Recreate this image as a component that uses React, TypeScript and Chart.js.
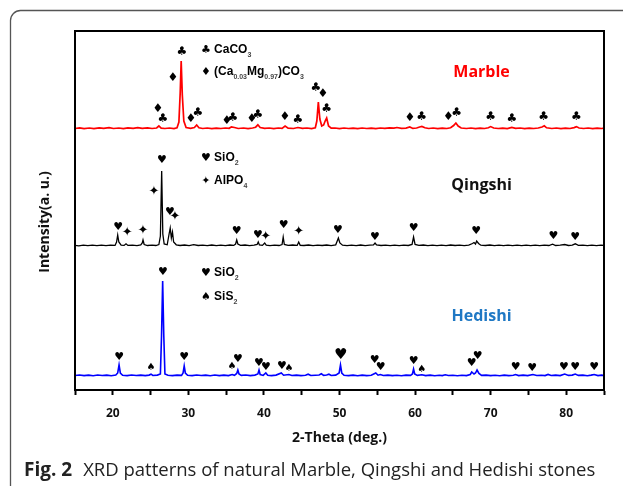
import { useEffect, useRef } from 'react';
import { Chart, registerables } from 'chart.js';
Chart.register(...registerables);

// 2-Theta axis
const thetaMin = 15;
const thetaMax = 85;
const thetaStep = 5;
const thetaLabels = [20, 30, 40, 50, 60, 70, 80];

// stacking offsets (a.u.)
const marbleOffset = 261;
const qingshiOffset = 144;
const hedishiOffset = 14;

// [2θ, intensity]
const marble: [number, number][] = [
  [15, 0.5], [15.6, 1.2], [16.2, 0.4], [16.9, 1.0], [17.5, 0.3], [18.2, 1.1], [18.8, 0.6], [19.5, 1.3], [20.1, 0.5], [20.8, 1.0],
  [21.4, 0.4], [22.0, 1.2], [22.7, 0.7], [23.3, 1.4], [23.9, 0.6], [24.6, 1.1], [25.2, 0.5], [25.8, 1.0], [26.1, 3.0], [26.4, 0.8],
  [26.9, 0.5], [27.5, 1.0], [28.1, 0.4], [28.5, 1.2], [28.75, 7], [28.92, 36], [29.05, 68], [29.2, 34], [29.4, 8], [29.7, 1.5],
  [30.3, 0.6], [30.8, 1.5], [31.1, 4.0], [31.4, 1.2], [31.9, 0.5], [32.5, 1.0], [33.1, 0.4], [33.7, 0.9], [34.3, 0.5], [34.9, 1.0],
  [35.4, 0.7], [35.7, 2.2], [36.1, 1.5], [36.6, 0.5], [37.3, 1.0], [37.9, 0.4], [38.5, 1.0], [38.9, 1.8], [39.2, 4.2], [39.5, 1.5],
  [40.1, 0.6], [40.7, 1.0], [41.3, 0.4], [41.9, 1.0], [42.4, 0.6], [42.8, 3.0], [43.2, 0.8], [43.9, 0.5], [44.5, 1.5], [45.1, 0.6],
  [45.7, 1.0], [46.3, 0.4], [46.8, 1.2], [47.0, 8], [47.2, 27], [47.4, 10], [47.65, 3], [47.9, 4], [48.1, 8], [48.3, 11],
  [48.55, 3], [48.9, 0.8], [49.4, 1.0], [50.0, 0.4], [50.6, 1.0], [51.2, 0.5], [51.8, 0.9], [52.4, 0.3], [53.0, 1.0], [53.6, 0.5],
  [54.2, 0.8], [54.8, 0.3], [55.4, 1.0], [56.0, 0.6], [56.6, 1.2], [57.2, 0.8], [57.6, 1.5], [58.2, 0.6], [58.8, 0.9], [59.3, 2.0],
  [59.7, 0.6], [60.2, 1.0], [60.6, 2.0], [60.9, 2.6], [61.3, 1.2], [61.8, 0.5], [62.4, 1.0], [63.0, 0.4], [63.6, 0.9], [64.2, 0.5],
  [64.7, 1.2], [65.1, 3.5], [65.4, 6.0], [65.7, 3.0], [66.1, 1.0], [66.8, 0.5], [67.4, 1.0], [68.0, 0.4], [68.6, 0.9], [69.2, 0.5],
  [69.7, 1.2], [70.0, 2.4], [70.4, 1.0], [71.0, 0.5], [71.6, 0.9], [72.2, 0.4], [72.8, 1.6], [73.3, 0.6], [73.9, 1.0], [74.5, 0.4],
  [75.1, 0.9], [75.7, 0.5], [76.3, 1.0], [76.8, 2.0], [77.1, 3.2], [77.4, 1.2], [78.1, 0.5], [78.7, 1.0], [79.3, 0.4], [79.9, 0.9],
  [80.5, 0.5], [81.05, 1.4], [81.35, 2.4], [81.7, 1.0], [82.3, 0.5], [82.9, 1.0], [83.5, 0.4], [84.1, 0.9], [84.7, 0.5], [85, 0.8],
];

const qingshi: [number, number][] = [
  [15, 0.6], [15.5, 0.2], [16.1, 0.8], [16.7, 0.3], [17.3, 0.9], [17.9, 0.4], [18.5, 0.8], [19.1, 0.3], [19.7, 0.9], [20.3, 0.6],
  [20.5, 4], [20.65, 11], [20.8, 4], [21.1, 0.8], [21.5, 0.6], [21.75, 2.2], [22.0, 0.6], [22.6, 0.9], [23.2, 0.4], [23.7, 1.0],
  [23.9, 3], [24.0, 6], [24.15, 1.5], [24.6, 0.5], [25.2, 0.9], [25.7, 0.5], [26.1, 1.5], [26.3, 10], [26.47, 75], [26.62, 12],
  [26.8, 2], [27.2, 1.2], [27.45, 12], [27.6, 18], [27.75, 8], [27.9, 14], [28.05, 4], [28.4, 1.2], [28.9, 0.5], [29.5, 1.0],
  [30.1, 0.4], [30.7, 1.3], [31.3, 0.5], [31.9, 0.9], [32.5, 0.3], [33.1, 1.0], [33.7, 0.4], [34.3, 0.9], [34.9, 0.4], [35.5, 1.0],
  [36.0, 0.6], [36.25, 2], [36.4, 6], [36.55, 2], [36.9, 0.6], [37.5, 1.0], [38.1, 0.4], [38.7, 0.8], [39.1, 1.5], [39.25, 4],
  [39.4, 1], [39.8, 0.6], [40.1, 3], [40.3, 0.8], [40.8, 0.4], [41.4, 0.9], [42.0, 0.5], [42.4, 1.5], [42.55, 9], [42.7, 1.5],
  [43.2, 0.6], [43.8, 1.0], [44.4, 0.6], [44.6, 4], [44.8, 0.7], [45.3, 0.5], [45.9, 1.0], [46.5, 0.4], [47.1, 0.9], [47.7, 0.5],
  [48.3, 1.0], [48.9, 0.4], [49.5, 1.2], [49.7, 5], [49.85, 8], [50.05, 3], [50.4, 0.8], [51.0, 0.4], [51.6, 0.9], [52.2, 0.3],
  [52.8, 1.0], [53.4, 0.4], [54.0, 0.8], [54.5, 1.2], [54.7, 3], [54.9, 1], [55.5, 0.5], [56.1, 0.9], [56.7, 0.4], [57.3, 0.8],
  [57.9, 0.4], [58.5, 0.9], [59.1, 0.5], [59.6, 1.5], [59.8, 9], [60.0, 1.5], [60.5, 0.6], [61.1, 1.0], [61.7, 0.4], [62.3, 0.9],
  [62.9, 0.3], [63.5, 0.8], [64.1, 0.4], [64.7, 1.0], [65.3, 0.5], [65.9, 0.9], [66.5, 0.4], [67.1, 0.9], [67.6, 2.5], [67.8, 3.5],
  [68.0, 2.0], [68.15, 5], [68.4, 2.5], [68.7, 0.8], [69.3, 0.5], [69.9, 1.0], [70.5, 0.4], [71.1, 0.9], [71.7, 0.4], [72.3, 0.8],
  [72.9, 0.3], [73.5, 0.9], [74.1, 0.4], [74.7, 0.8], [75.3, 0.4], [75.9, 0.9], [76.5, 0.4], [77.1, 0.8], [77.7, 0.5], [78.2, 1.8],
  [78.6, 0.5], [79.2, 0.9], [79.8, 1.5], [80.3, 0.5], [80.8, 0.9], [81.2, 2.2], [81.6, 0.6], [82.2, 0.9], [82.8, 0.3], [83.4, 0.8],
  [84.0, 0.4], [84.6, 0.9], [85, 0.5],
];

const hedishi: [number, number][] = [
  [15, 0.5], [15.6, 1.0], [16.2, 0.4], [16.8, 0.9], [17.4, 0.3], [18.0, 1.0], [18.6, 0.5], [19.2, 0.9], [19.8, 0.3], [20.4, 0.9],
  [20.65, 3], [20.83, 11], [21.0, 3], [21.3, 0.8], [21.9, 0.4], [22.5, 1.0], [23.1, 0.5], [23.7, 0.9], [24.3, 0.4], [24.8, 0.9],
  [25.06, 1.8], [25.3, 0.5], [25.9, 0.9], [26.3, 2], [26.45, 40], [26.6, 95], [26.75, 40], [26.9, 2], [27.3, 0.8], [27.9, 0.4],
  [28.5, 0.9], [29.1, 0.6], [29.3, 3], [29.45, 10], [29.6, 3], [29.9, 0.7], [30.5, 0.4], [31.1, 1.0], [31.7, 0.5], [32.3, 0.9],
  [32.9, 0.3], [33.5, 1.0], [34.1, 0.4], [34.7, 0.9], [35.3, 0.4], [35.8, 1.5], [36.1, 0.7], [36.4, 2.5], [36.55, 6], [36.7, 2],
  [37.0, 0.6], [37.6, 1.0], [38.2, 0.4], [38.8, 0.9], [39.2, 2], [39.35, 6], [39.5, 1.5], [39.9, 0.6], [40.25, 3], [40.5, 0.8],
  [41.0, 0.4], [41.6, 0.9], [42.3, 3], [42.6, 0.8], [43.3, 1.5], [43.7, 0.5], [44.3, 0.9], [44.9, 0.4], [45.5, 0.8], [45.85, 1.8],
  [46.2, 0.5], [46.8, 0.8], [47.3, 1.0], [47.6, 2.2], [47.9, 0.6], [48.3, 1.0], [48.6, 1.8], [48.9, 0.5], [49.5, 0.9], [49.95, 3],
  [50.13, 11], [50.3, 3], [50.6, 0.7], [51.2, 0.4], [51.8, 0.9], [52.4, 0.3], [53.0, 0.9], [53.6, 0.4], [54.2, 0.8], [54.8, 3],
  [55.1, 0.8], [55.4, 1.5], [55.8, 0.5], [56.4, 0.9], [57.0, 0.4], [57.6, 0.8], [58.2, 0.3], [58.8, 0.9], [59.4, 0.6], [59.65, 2],
  [59.8, 7], [59.95, 2], [60.3, 0.6], [60.9, 1.2], [61.4, 0.4], [62.0, 0.9], [62.6, 0.3], [63.2, 0.8], [63.6, 0.4], [64.0, 1.2],
  [64.4, 0.5], [65.0, 0.8], [65.6, 0.3], [66.2, 0.8], [66.8, 0.4], [67.3, 1.5], [67.5, 4], [67.8, 2], [68.0, 3], [68.2, 6],
  [68.45, 2.5], [68.8, 0.6], [69.4, 0.9], [70.0, 0.4], [70.6, 0.8], [71.2, 0.3], [71.8, 0.9], [72.4, 0.4], [73.0, 0.8], [73.3, 1.5],
  [73.7, 0.4], [74.3, 0.9], [74.9, 0.4], [75.6, 1.5], [76.1, 0.5], [76.7, 0.8], [77.2, 0.4], [77.6, 1.6], [78.0, 0.5], [78.6, 0.9],
  [79.2, 0.4], [79.8, 2.0], [80.3, 0.6], [80.8, 0.9], [81.2, 2.0], [81.6, 0.6], [82.2, 0.9], [82.8, 0.3], [83.3, 0.9], [83.7, 1.5],
  [84.2, 0.4], [84.7, 0.9], [85, 0.5],
];

// phase markers [2θ, level]
const clubMarks: [number, number][] = [
  [29.15, 338], [26.64, 271], [31.27, 277], [35.9, 272], [39.2, 275], [44.5, 270], [46.86, 302], [48.3, 281],
  [60.87, 273], [65.5, 277], [70.0, 273], [72.8, 271], [77.0, 273], [81.35, 273],
];
const diamondMarks: [number, number][] = [
  [27.96, 312], [25.98, 281], [30.34, 271], [35.1, 269], [38.4, 271], [42.77, 273], [47.79, 296], [59.3, 272], [64.4, 273],
];
const qHeartMarks: [number, number][] = [
  [26.5, 230], [27.57, 178], [20.7, 163], [36.4, 159], [39.2, 155], [42.6, 165], [49.8, 160], [54.7, 153], [59.8, 162],
  [68.1, 159], [78.3, 154], [81.2, 153],
];
const starMarks: [number, number][] = [
  [25.45, 198], [28.23, 173], [21.9, 157], [24.0, 159], [40.25, 153], [44.6, 158],
];
const hHeartMarks: [number, number][] = [
  [26.64, 118], [20.83, 33], [29.44, 33], [36.57, 31], [39.34, 27], [40.27, 23], [42.38, 24], [54.65, 30], [55.45, 23],
  [59.8, 29], [67.5, 27], [68.27, 34], [73.3, 23], [75.5, 22], [79.7, 23], [81.2, 23], [83.7, 23],
];
const hBigHeartMarks: [number, number][] = [[50.15, 35]];
const spadeMarks: [number, number][] = [[25.06, 23], [35.78, 24], [43.3, 22], [60.87, 21]];

// legends: [symbol, text segments (text, isSubscript), level]
const legendTheta = 32.33;
const legendTextTheta = 33.4;
const legends: [string, [string, boolean][], number][] = [
  ['\u2663', [['CaCO', false], ['3', true]], 340],
  ['\u2666', [['(Ca', false], ['0.03', true], ['Mg', false], ['0.97', true], [')CO', false], ['3', true]], 318],
  ['\u2665', [['SiO', false], ['2', true]], 232],
  ['\u2726', [['AlPO', false], ['4', true]], 209],
  ['\u2665', [['SiO', false], ['2', true]], 117],
  ['\u2660', [['SiS', false], ['2', true]], 93],
];

const sampleNames = ['Marble', 'Qingshi', 'Hedishi'];
const sampleLevels = [318, 205, 74];
const sampleTheta = 68.8;

const xTitle = '2-Theta (deg.)';
const yTitle = 'Intensity(a. u.)';
const captionBold = 'Fig. 2';
const captionText = 'XRD patterns of natural Marble, Qingshi and Hedishi stones';

const toXY = (arr: [number, number][], off: number) => arr.map(([x, y]) => ({ x, y: y + off }));

export default function App() {
  const ref = useRef<HTMLCanvasElement | null>(null);
  useEffect(() => {
    const canvas = ref.current;
    if (!canvas) return;
    const overlay = {
      id: 'overlay',
      beforeDraw(chart: any) {
        const { ctx } = chart;
        ctx.save();
        ctx.fillStyle = '#ffffff';
        ctx.fillRect(0, 0, chart.width, chart.height);
        ctx.strokeStyle = '#555';
        ctx.lineWidth = 1.3;
        ctx.beginPath();
        ctx.moveTo(10.5, 486);
        ctx.lineTo(10.5, 20);
        ctx.arcTo(10.5, 10.5, 20, 10.5, 10);
        ctx.lineTo(623, 10.5);
        ctx.stroke();
        ctx.restore();
      },
      afterDatasetsDraw(chart: any) {
        const { ctx, scales } = chart;
        const xs = scales.x;
        const ys = scales.y;
        ctx.save();
        ctx.fillStyle = '#000';
        ctx.textAlign = 'center';
        ctx.textBaseline = 'middle';
        const drawMarks = (arr: [number, number][], glyph: string, size: number) => {
          ctx.font = `${size}px "DejaVu Sans"`;
          for (const [t, v] of arr) ctx.fillText(glyph, xs.getPixelForValue(t), ys.getPixelForValue(v));
        };
        drawMarks(clubMarks, '\u2663', 12);
        drawMarks(diamondMarks, '\u2666', 12);
        drawMarks(qHeartMarks, '\u2665', 11);
        drawMarks(starMarks, '\u2726', 13);
        drawMarks(hHeartMarks, '\u2665', 11);
        drawMarks(hBigHeartMarks, '\u2665', 15);
        drawMarks(spadeMarks, '\u2660', 10);

        for (const [sym, segs, lv] of legends) {
          const y = ys.getPixelForValue(lv);
          ctx.textAlign = 'center';
          ctx.font = '11px "DejaVu Sans"';
          ctx.fillStyle = '#000';
          ctx.fillText(sym, xs.getPixelForValue(legendTheta), y);
          ctx.textAlign = 'left';
          let cx = xs.getPixelForValue(legendTextTheta);
          for (const [t, sub] of segs) {
            ctx.font = sub ? 'bold 7px "Liberation Sans"' : 'bold 12px "Liberation Sans"';
            ctx.fillStyle = sub ? '#444' : '#000';
            ctx.fillText(t, cx, sub ? y + 5 : y);
            cx += ctx.measureText(t).width;
          }
        }

        const nameColors = ['#ff0000', '#111111', '#1f78c4'];
        ctx.textAlign = 'center';
        ctx.font = 'bold 16px "Open Sans"';
        sampleNames.forEach((n, i) => {
          ctx.fillStyle = nameColors[i];
          ctx.fillText(n, xs.getPixelForValue(sampleTheta), ys.getPixelForValue(sampleLevels[i]));
        });
        ctx.restore();
      },
      afterDraw(chart: any) {
        const { ctx, chartArea } = chart;
        ctx.save();
        ctx.strokeStyle = '#000';
        ctx.lineWidth = 2;
        ctx.strokeRect(chartArea.left, chartArea.top, chartArea.right - chartArea.left, chartArea.bottom - chartArea.top);

        ctx.fillStyle = '#111';
        ctx.font = 'bold 14px "Open Sans"';
        ctx.textAlign = 'center';
        ctx.textBaseline = 'middle';
        ctx.translate(45, 222);
        ctx.rotate(-Math.PI / 2);
        ctx.fillText(yTitle, 0, 0);
        ctx.setTransform(1, 0, 0, 1, 0, 0);

        ctx.textAlign = 'left';
        ctx.textBaseline = 'alphabetic';
        ctx.fillStyle = '#222';
        ctx.font = 'bold 19px "Open Sans"';
        ctx.fillText(captionBold, 24, 476);
        const w = ctx.measureText(captionBold).width;
        ctx.font = '18.5px "Open Sans"';
        ctx.fillText(captionText, 24 + w + 11, 476);
        ctx.restore();
      },
    };

    const chart = new Chart(canvas, {
      type: 'line',
      data: {
        datasets: [
          { label: sampleNames[0], data: toXY(marble, marbleOffset), borderColor: '#ff0000', borderWidth: 1.7 },
          { label: sampleNames[1], data: toXY(qingshi, qingshiOffset), borderColor: '#000000', borderWidth: 1.3 },
          { label: sampleNames[2], data: toXY(hedishi, hedishiOffset), borderColor: '#0000ff', borderWidth: 1.6 },
        ],
      },
      options: {
        animation: false,
        responsive: false,
        devicePixelRatio: 1,
        parsing: false as any,
        elements: { point: { radius: 0 }, line: { tension: 0 } },
        layout: { padding: { left: 0, top: 31, right: 19, bottom: 38 } },
        plugins: { legend: { display: false }, tooltip: { enabled: false } },
        scales: {
          x: {
            type: 'linear',
            min: thetaMin,
            max: thetaMax,
            afterFit: (s: any) => { s.height = 60; },
            ticks: {
              stepSize: thetaStep,
              autoSkip: false,
              maxRotation: 0,
              padding: 11,
              color: '#111',
              font: { family: 'Open Sans', weight: 'bold', size: 12 },
              callback: (v: any) => (thetaLabels.includes(Number(v)) ? String(v) : ''),
            },
            grid: { display: true, drawOnChartArea: false, drawTicks: true, tickLength: 5, tickColor: '#000', tickWidth: 2 },
            border: { display: true, color: '#000', width: 2 },
            title: { display: true, text: xTitle, color: '#111', font: { family: 'Open Sans', weight: 'bold', size: 14 }, padding: { top: 0, bottom: 4 } },
          },
          y: {
            type: 'linear',
            min: 0,
            max: 359,
            display: true,
            afterFit: (s: any) => { s.width = 75; },
            ticks: { display: false },
            grid: { display: false, drawTicks: false },
            border: { display: false },
          },
        },
      },
      plugins: [overlay],
    } as any);
    return () => chart.destroy();
  }, []);

  return (
    <div style={{ position: 'fixed', left: 0, top: 0, width: 623, height: 488, background: '#fff' }}>
      <canvas ref={ref} width={623} height={488} style={{ width: 623, height: 488, display: 'block' }} />
    </div>
  );
}
